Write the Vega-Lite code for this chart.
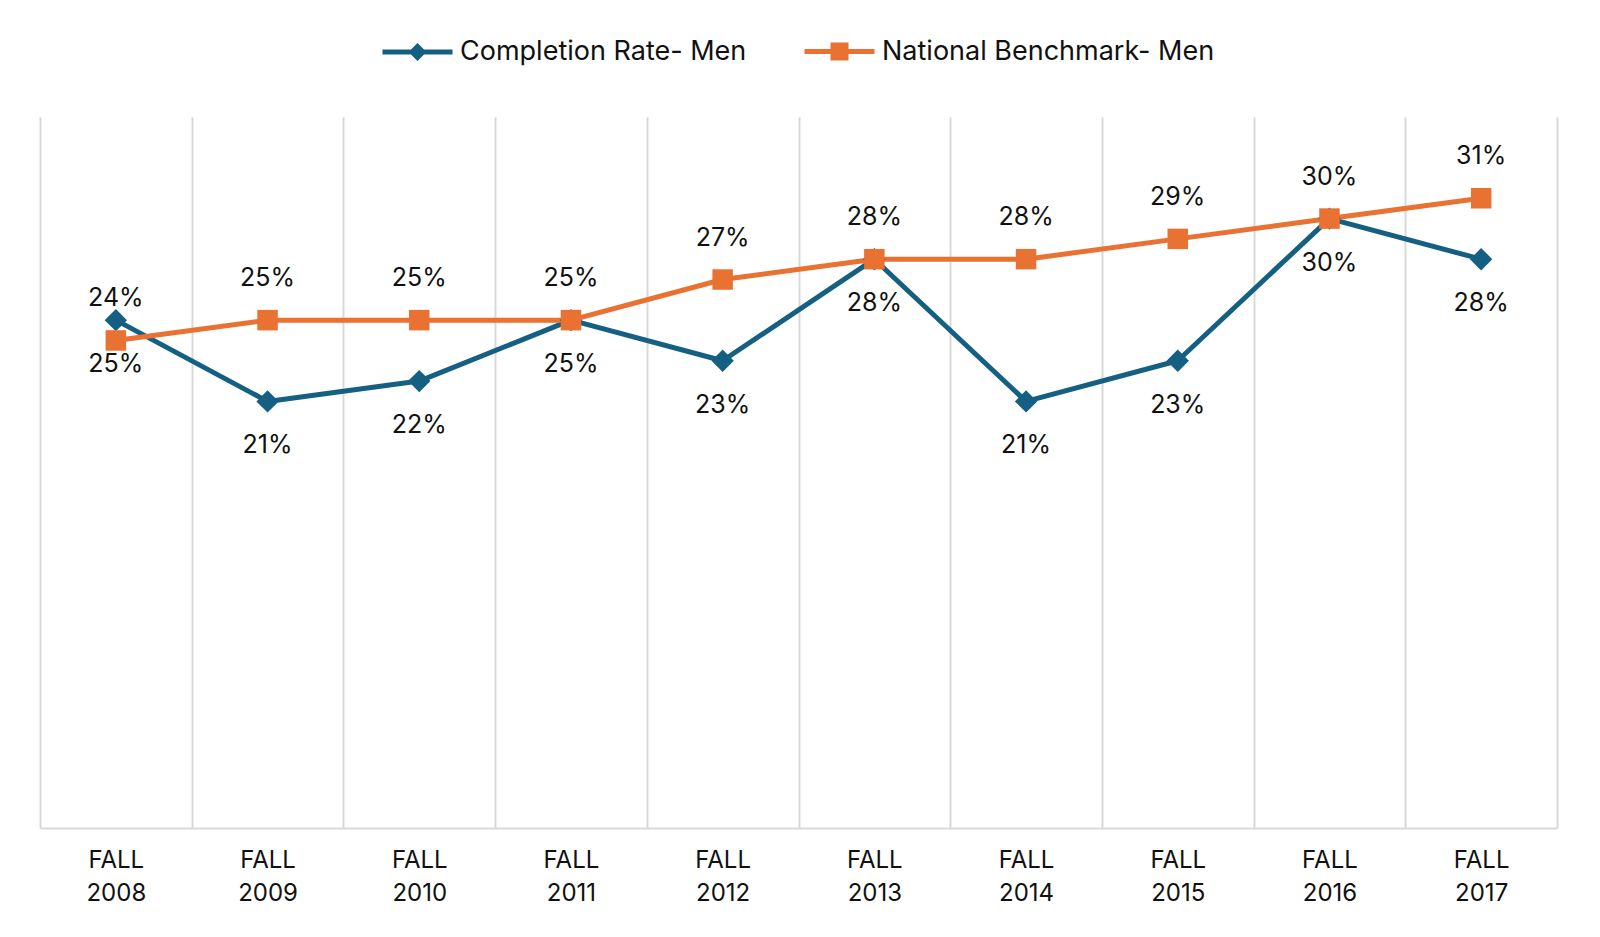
{
  "$schema": "https://vega.github.io/schema/vega-lite/v6.json",
  "width": 1517,
  "height": 711,
  "autosize": {"type": "none"},
  "padding": {"left": 40, "top": 117, "right": 43, "bottom": 109},
  "background": "white",
  "config": {"view": {"stroke": null}, "font": "Inter"},
  "data": {
    "values": [
      {"term": "FALL 2008", "series": "Completion Rate- Men", "value": 0.25},
      {"term": "FALL 2009", "series": "Completion Rate- Men", "value": 0.21},
      {"term": "FALL 2010", "series": "Completion Rate- Men", "value": 0.22},
      {"term": "FALL 2011", "series": "Completion Rate- Men", "value": 0.25},
      {"term": "FALL 2012", "series": "Completion Rate- Men", "value": 0.23},
      {"term": "FALL 2013", "series": "Completion Rate- Men", "value": 0.28},
      {"term": "FALL 2014", "series": "Completion Rate- Men", "value": 0.21},
      {"term": "FALL 2015", "series": "Completion Rate- Men", "value": 0.23},
      {"term": "FALL 2016", "series": "Completion Rate- Men", "value": 0.30},
      {"term": "FALL 2017", "series": "Completion Rate- Men", "value": 0.28},
      {"term": "FALL 2008", "series": "National Benchmark- Men", "value": 0.24},
      {"term": "FALL 2009", "series": "National Benchmark- Men", "value": 0.25},
      {"term": "FALL 2010", "series": "National Benchmark- Men", "value": 0.25},
      {"term": "FALL 2011", "series": "National Benchmark- Men", "value": 0.25},
      {"term": "FALL 2012", "series": "National Benchmark- Men", "value": 0.27},
      {"term": "FALL 2013", "series": "National Benchmark- Men", "value": 0.28},
      {"term": "FALL 2014", "series": "National Benchmark- Men", "value": 0.28},
      {"term": "FALL 2015", "series": "National Benchmark- Men", "value": 0.29},
      {"term": "FALL 2016", "series": "National Benchmark- Men", "value": 0.30},
      {"term": "FALL 2017", "series": "National Benchmark- Men", "value": 0.31}
    ]
  },
  "encoding": {
    "x": {
      "field": "term",
      "type": "ordinal",
      "sort": null,
      "scale": {"type": "band", "paddingInner": 0, "paddingOuter": 0},
      "axis": {
        "title": null,
        "tickBand": "extent",
        "ticks": false,
        "grid": true,
        "gridColor": "#d9d9d9",
        "gridWidth": 2,
        "domainColor": "#d9d9d9",
        "domainWidth": 2,
        "labelAngle": 0,
        "labelFontSize": 24,
        "labelColor": "#111111",
        "labelPadding": 20,
        "labelLineHeight": 33,
        "labelBaseline": "top",
        "labelExpr": "split(datum.label, ' ')"
      }
    },
    "y": {
      "field": "value",
      "type": "quantitative",
      "scale": {"domain": [0, 0.35]},
      "axis": null
    }
  },
  "resolve": {"scale": {"shape": "independent"}},
  "layer": [
    {
      "mark": {"type": "line", "strokeWidth": 5, "strokeJoin": "round"},
      "encoding": {
        "color": {
          "field": "series",
          "type": "nominal",
          "scale": {"domain": ["Completion Rate- Men", "National Benchmark- Men"], "range": ["#156082", "#E97132"]},
          "legend": null
        }
      }
    },
    {
      "mark": {"type": "point", "filled": true, "opacity": 1},
      "encoding": {
        "color": {"field": "series", "type": "nominal", "legend": null},
        "shape": {
          "field": "series",
          "type": "nominal",
          "scale": {"domain": ["Completion Rate- Men", "National Benchmark- Men"], "range": ["diamond", "square"]},
          "legend": null
        },
        "size": {
          "field": "series",
          "type": "nominal",
          "scale": {"domain": ["Completion Rate- Men", "National Benchmark- Men"], "range": [500, 420]},
          "legend": null
        }
      }
    },
    {
      "transform": [{"filter": "datum.series === 'none'"}],
      "mark": {"type": "point", "filled": false, "opacity": 1, "strokeWidth": 5},
      "encoding": {
        "shape": {
          "field": "series",
          "type": "nominal",
          "scale": {
            "domain": ["Completion Rate- Men", "National Benchmark- Men"],
            "range": [
              "M-3.5,0H3.5M-0.55,0L0,-0.55L0.55,0L0,0.55ZM-0.2,0L0,-0.2L0.2,0L0,0.2Z",
              "M-3.5,0H3.5M-0.65,-0.65H0.65V0.65H-0.65ZM-0.35,-0.35H0.35V0.35H-0.35ZM-0.1,-0.1H0.1V0.1H-0.1Z"
            ]
          },
          "legend": {
            "orient": "none",
            "legendX": 364,
            "legendY": -79,
            "direction": "horizontal",
            "title": null,
            "padding": 0,
            "labelFontSize": 27,
            "labelColor": "#111111",
            "labelLimit": 600,
            "symbolSize": 400,
            "symbolStrokeWidth": 5,
            "symbolOpacity": 1,
            "symbolFillColor": "transparent",
            "symbolStrokeColor": {"expr": "datum.value === 'Completion Rate- Men' ? '#156082' : '#E97132'"},
            "labelOffset": 29,
            "columnPadding": 47
          }
        }
      }
    },
    {
      "transform": [{"filter": "datum.series === 'National Benchmark- Men'"}],
      "mark": {"type": "text", "dy": -42, "fontSize": 25, "color": "#111111", "baseline": "middle"},
      "encoding": {"text": {"field": "value", "type": "quantitative", "format": ".0%"}}
    },
    {
      "transform": [{"filter": "datum.series === 'Completion Rate- Men'"}],
      "mark": {"type": "text", "dy": 44, "fontSize": 25, "color": "#111111", "baseline": "middle"},
      "encoding": {"text": {"field": "value", "type": "quantitative", "format": ".0%"}}
    }
  ]
}
